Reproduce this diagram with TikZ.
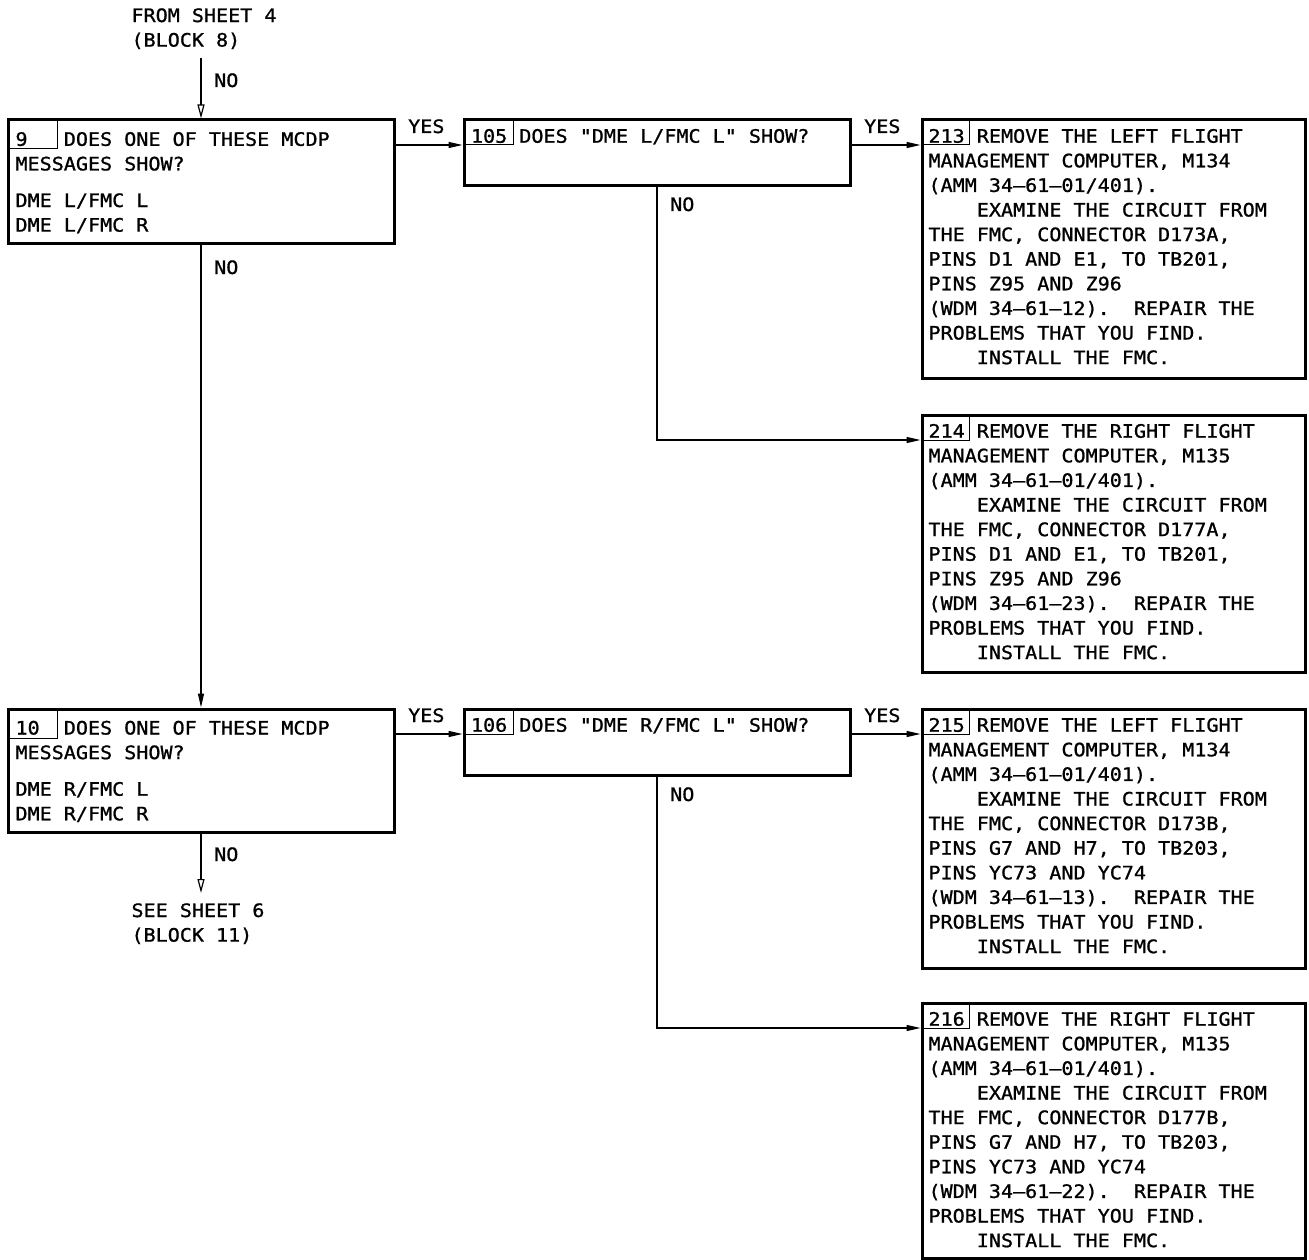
\documentclass[tikz,border=0pt]{standalone}
\usepackage{fontspec}
\usetikzlibrary{arrows.meta,calc}
\newfontfamily\dfont[FakeStretch=1.085,FakeBold=1]{DejaVu Sans Mono}
\newlength\chw
\newcommand\dtxtfont{\dfont\fontsize{18.5}{24.6}\selectfont\frenchspacing}
\newcommand\fixsp{\spaceskip=\chw\xspaceskip=\chw\relax\noindent\strut}
\begin{document}
\settowidth{\chw}{\dfont\fontsize{18.5}{24.6}\selectfont M}%
\begin{tikzpicture}[x=1pt,y=-1pt,
 box/.style={draw, line width=3pt, inner sep=0pt, outer sep=0pt, anchor=north west},
 txt/.style={inner sep=0pt, outer sep=0pt, anchor=north west, align=left, text width=370pt,
   font=\dtxtfont},
 lbl/.style={inner sep=0pt, anchor=base west, font=\dtxtfont},
 cell/.style={line width=1pt},
 wire/.style={line width=1.2pt},
 yesarr/.style={wire, -{Triangle[length=14pt,width=6pt]}, shorten >=1.5pt},
 noarr/.style={wire, -{Triangle[open,length=14pt,width=7pt]}},
]
\useasboundingbox (0,0) rectangle (1309,1260);

% boxes
\node[box, minimum width=386pt, minimum height=123pt] (b9)   at (8,120) {};
\node[box, minimum width=386pt, minimum height=123pt] (b10)  at (8,709) {};
\node[box, minimum width=386pt, minimum height=66pt]  (b105) at (464,120) {};
\node[box, minimum width=386pt, minimum height=66pt]  (b106) at (464,709) {};
\node[box, minimum width=383pt, minimum height=258pt] (b213) at (922,120) {};
\node[box, minimum width=383pt, minimum height=257pt] (b214) at (922,415) {};
\node[box, minimum width=383pt, minimum height=259pt] (b215) at (922,709) {};
\node[box, minimum width=383pt, minimum height=255pt] (b216) at (922,1003) {};

% number cells
\draw[cell] ($(b9.north west)+(49,0)$) |- ($(b9.north west)+(0,29)$);
\draw[cell] ($(b10.north west)+(49,0)$) |- ($(b10.north west)+(0,29)$);
\draw[cell] ($(b105.north west)+(49,0)$) |- ($(b105.north west)+(0,25)$);
\draw[cell] ($(b106.north west)+(49,0)$) |- ($(b106.north west)+(0,25)$);
\draw[cell] ($(b213.north west)+(47,0)$) |- ($(b213.north west)+(0,25)$);
\draw[cell] ($(b214.north west)+(47,0)$) |- ($(b214.north west)+(0,25)$);
\draw[cell] ($(b215.north west)+(47,0)$) |- ($(b215.north west)+(0,25)$);
\draw[cell] ($(b216.north west)+(47,0)$) |- ($(b216.north west)+(0,25)$);

% box texts
\node[txt] (t9) at ($(b9.north west)+(7.5,8.6)$) {\fixsp 9~~~DOES ONE OF THESE MCDP\\MESSAGES SHOW?\\[12pt]DME L/FMC L\\DME L/FMC R};
\node[txt] (t10) at ($(b10.north west)+(7.5,8.3)$) {\fixsp 10~~DOES ONE OF THESE MCDP\\MESSAGES SHOW?\\[12pt]DME R/FMC L\\DME R/FMC R};
\node[txt] (t105) at ($(b105.north west)+(7,5.5)$) {\fixsp 105 DOES "DME L/FMC L" SHOW?};
\node[txt] (t106) at ($(b106.north west)+(7,5.5)$) {\fixsp 106 DOES "DME R/FMC L" SHOW?};
\node[txt] (t213) at ($(b213.north west)+(6.5,5.5)$) {\fixsp 213 REMOVE THE LEFT FLIGHT\\MANAGEMENT COMPUTER, M134\\(AMM 34–61–01/401).\\\phantom{MMMM}EXAMINE THE CIRCUIT FROM\\THE FMC, CONNECTOR D173A,\\PINS D1 AND E1, TO TB201,\\PINS Z95 AND Z96\\(WDM 34–61–12).~~REPAIR THE\\PROBLEMS THAT YOU FIND.\\\phantom{MMMM}INSTALL THE FMC.};
\node[txt] (t214) at ($(b214.north west)+(6.5,5.5)$) {\fixsp 214 REMOVE THE RIGHT FLIGHT\\MANAGEMENT COMPUTER, M135\\(AMM 34–61–01/401).\\\phantom{MMMM}EXAMINE THE CIRCUIT FROM\\THE FMC, CONNECTOR D177A,\\PINS D1 AND E1, TO TB201,\\PINS Z95 AND Z96\\(WDM 34–61–23).~~REPAIR THE\\PROBLEMS THAT YOU FIND.\\\phantom{MMMM}INSTALL THE FMC.};
\node[txt] (t215) at ($(b215.north west)+(6.5,5.5)$) {\fixsp 215 REMOVE THE LEFT FLIGHT\\MANAGEMENT COMPUTER, M134\\(AMM 34–61–01/401).\\\phantom{MMMM}EXAMINE THE CIRCUIT FROM\\THE FMC, CONNECTOR D173B,\\PINS G7 AND H7, TO TB203,\\PINS YC73 AND YC74\\(WDM 34–61–13).~~REPAIR THE\\PROBLEMS THAT YOU FIND.\\\phantom{MMMM}INSTALL THE FMC.};
\node[txt] (t216) at ($(b216.north west)+(6.5,5.5)$) {\fixsp 216 REMOVE THE RIGHT FLIGHT\\MANAGEMENT COMPUTER, M135\\(AMM 34–61–01/401).\\\phantom{MMMM}EXAMINE THE CIRCUIT FROM\\THE FMC, CONNECTOR D177B,\\PINS G7 AND H7, TO TB203,\\PINS YC73 AND YC74\\(WDM 34–61–22).~~REPAIR THE\\PROBLEMS THAT YOU FIND.\\\phantom{MMMM}INSTALL THE FMC.};

% off-sheet references
\node[txt, text width=200pt] (from4) at (131.5,4.8) {\fixsp FROM SHEET 4\\(BLOCK 8)};
\node[txt, text width=200pt] (see6) at (131.5,899.8) {\fixsp SEE SHEET 6\\(BLOCK 11)};
\coordinate (from4end) at (201,58);
\coordinate (see6end) at (201,893);

% connectors
\draw[noarr, shorten >=1.5pt] (from4end) -- (b9.north);
\draw[yesarr] (b9.south) -- (b10.north);
\draw[noarr] (b10.south) -- (see6end);
\draw[yesarr] ($(b9.north east)+(0,25)$) -- ($(b105.north west)+(0,25)$);
\draw[yesarr] ($(b105.north east)+(0,25)$) -- ($(b213.north west)+(0,25)$);
\draw[yesarr] ($(b105.south west)+(193,0)$) |- ($(b214.north west)+(0,25)$);
\draw[yesarr] ($(b10.north east)+(0,25)$) -- ($(b106.north west)+(0,25)$);
\draw[yesarr] ($(b106.north east)+(0,25)$) -- ($(b215.north west)+(0,25)$);
\draw[yesarr] ($(b106.south west)+(193,0)$) |- ($(b216.north west)+(0,25)$);

% labels
\node[lbl] (no0) at (214,87) {NO};
\node[lbl] (no9) at (214,274) {NO};
\node[lbl] (no10) at (214,861) {NO};
\node[lbl] (no105) at (670,211) {NO};
\node[lbl] (no106) at (670,801) {NO};
\node[lbl] (y9) at (408,133) {YES};
\node[lbl] (y105) at (864,133) {YES};
\node[lbl] (y10) at (408,722) {YES};
\node[lbl] (y106) at (864,722) {YES};
\end{tikzpicture}
\end{document}
